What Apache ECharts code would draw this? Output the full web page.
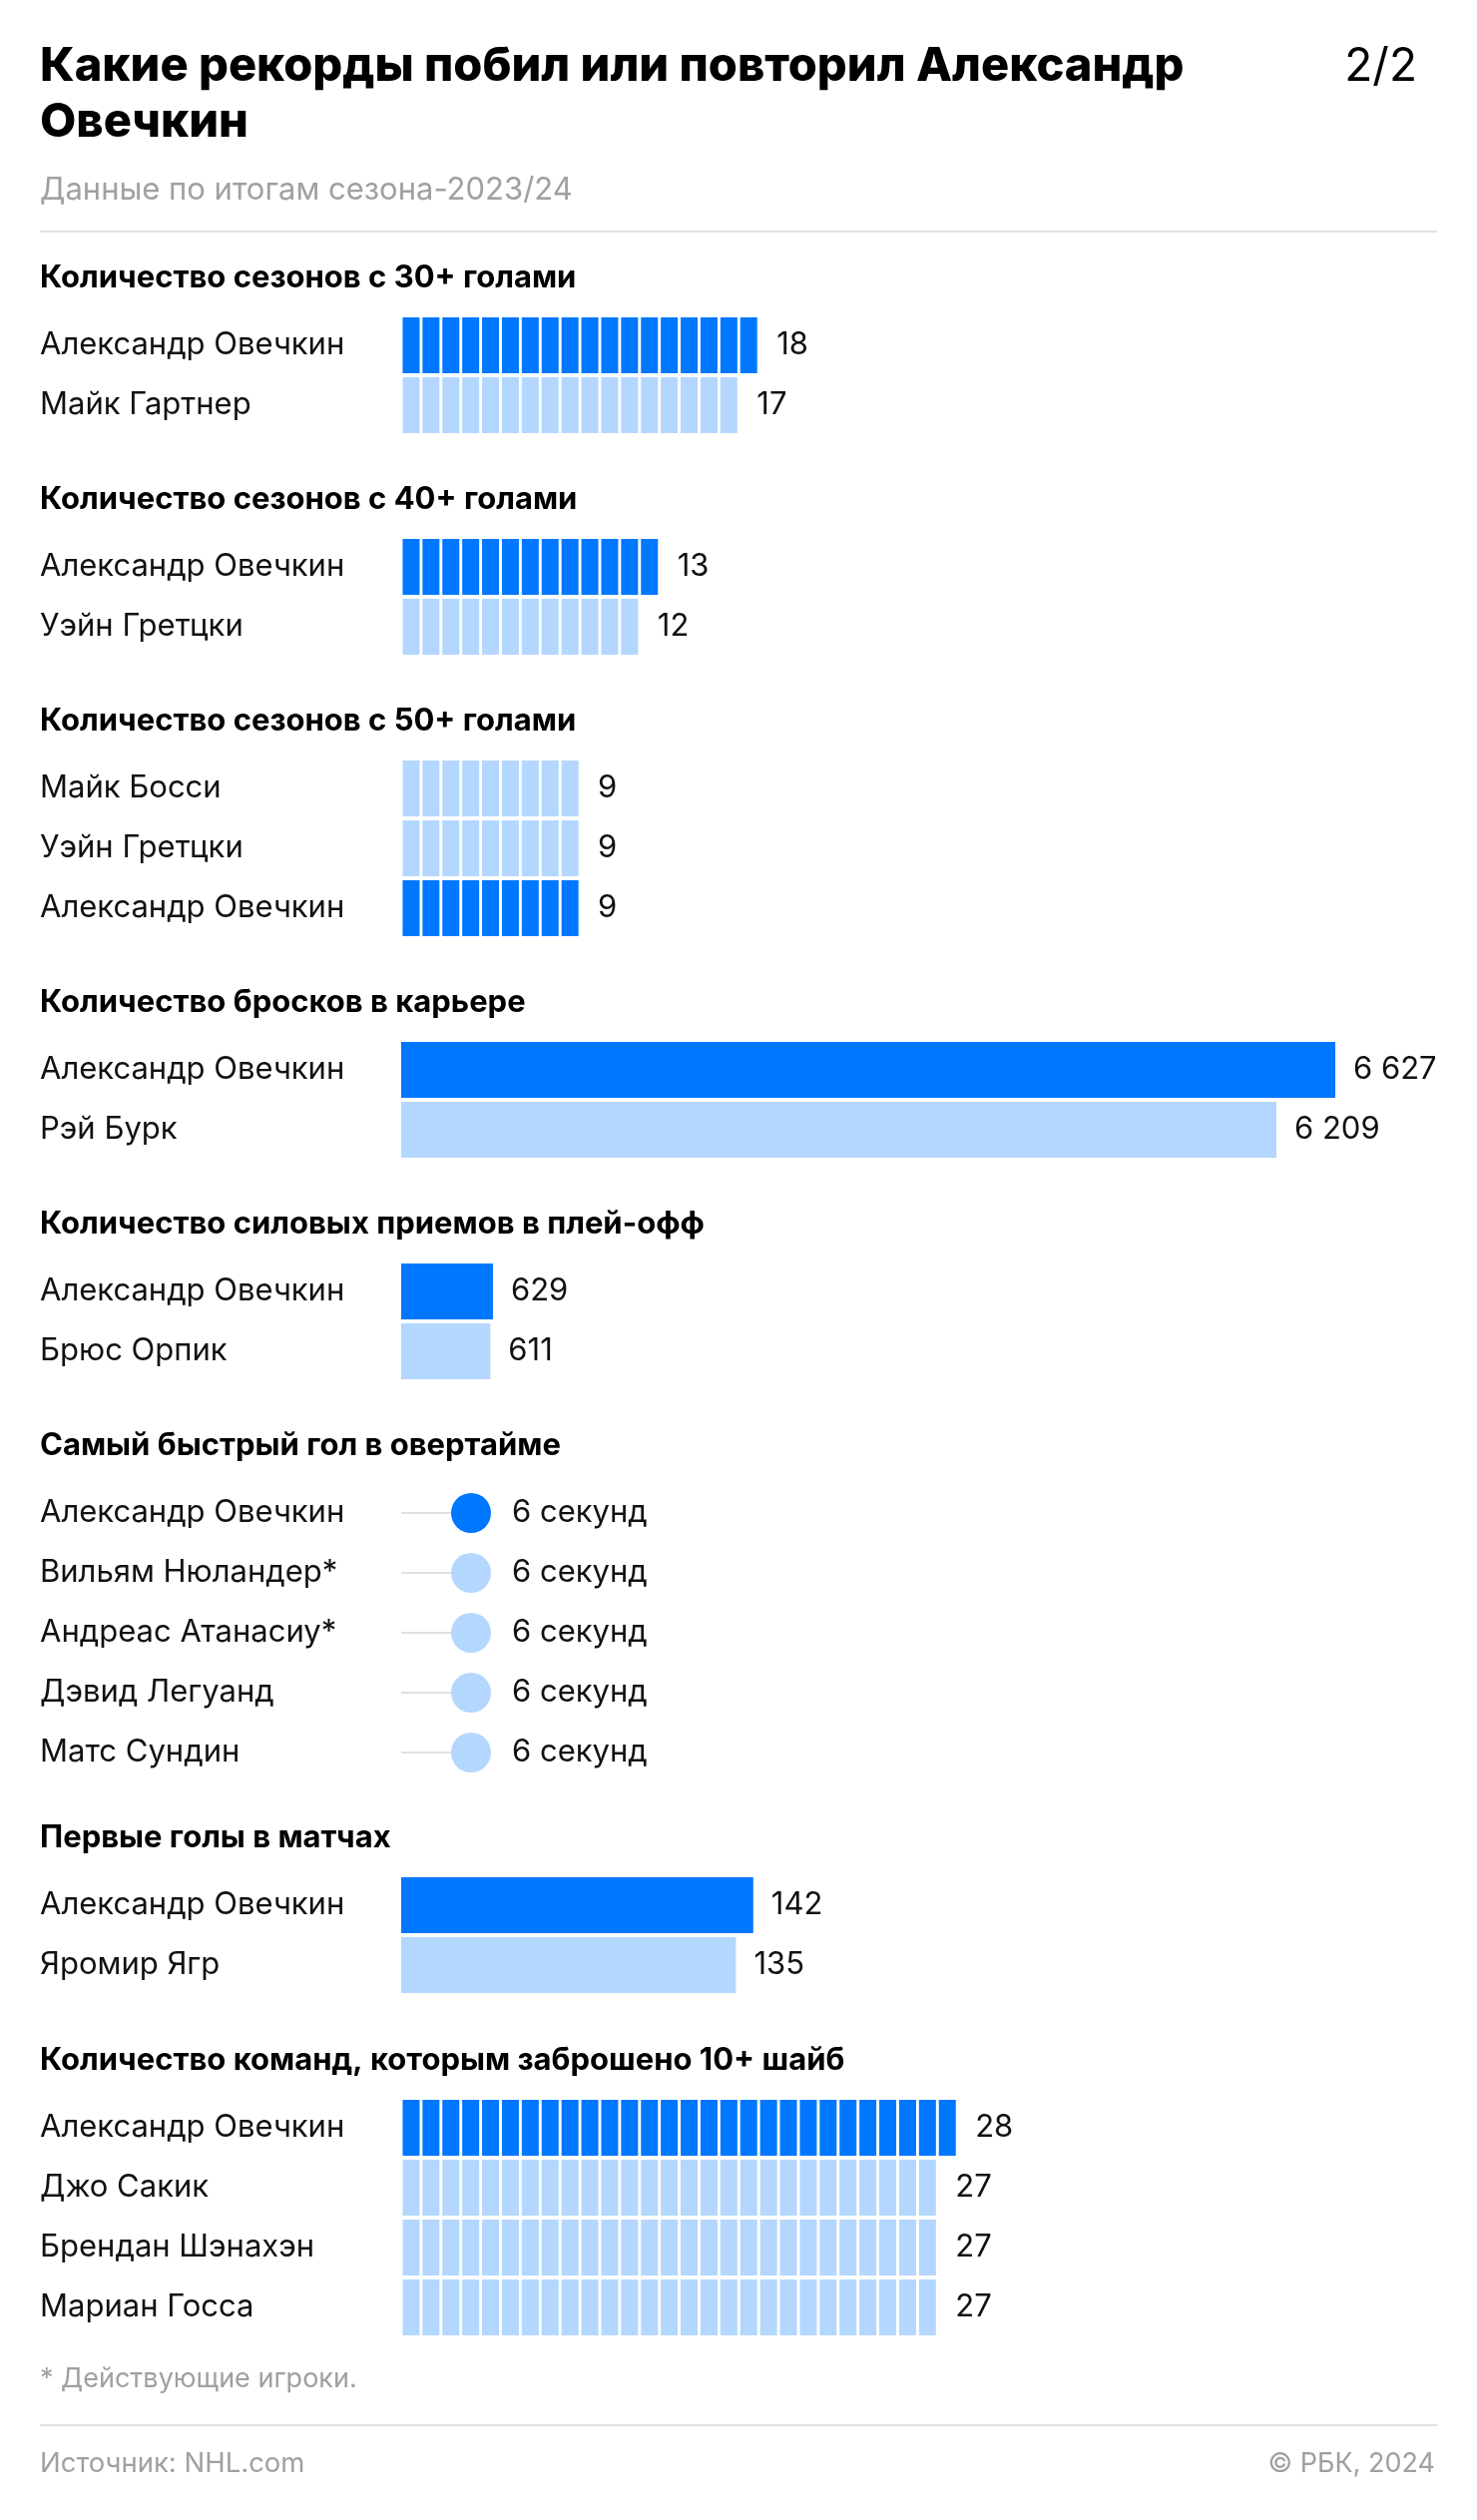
<!DOCTYPE html>
<html><head><meta charset="utf-8">
<script src="https://cdn.jsdelivr.net/npm/echarts@6/dist/echarts.min.js"></script>
<style>html,body{margin:0;padding:0;background:#fff}#c{width:1480px;height:2525px}</style>
</head><body><div id="c"></div>
<script>
// ---------- texts ----------
const titleLines = ['Какие рекорды побил или повторил Александр', 'Овечкин'];
const pageMark = '2/2';
const subtitle = 'Данные по итогам сезона-2023/24';
const footnote = '* Действующие игроки.';
const source = 'Источник: NHL.com';
const copyright = '© РБК, 2024';
const sectionTitles = [
  'Количество сезонов с 30+ голами',
  'Количество сезонов с 40+ голами',
  'Количество сезонов с 50+ голами',
  'Количество бросков в карьере',
  'Количество силовых приемов в плей-офф',
  'Самый быстрый гол в овертайме',
  'Первые голы в матчах',
  'Количество команд, которым заброшено 10+ шайб'
];
// ---------- data ----------
const goals30Names = ['Александр Овечкин', 'Майк Гартнер'];
const goals30Values = [18, 17];
const goals40Names = ['Александр Овечкин', 'Уэйн Гретцки'];
const goals40Values = [13, 12];
const goals50Names = ['Майк Босси', 'Уэйн Гретцки', 'Александр Овечкин'];
const goals50Values = [9, 9, 9];
const shotsNames = ['Александр Овечкин', 'Рэй Бурк'];
const shotsValues = [6627, 6209];
const hitsNames = ['Александр Овечкин', 'Брюс Орпик'];
const hitsValues = [629, 611];
const otGoalNames = ['Александр Овечкин', 'Вильям Нюландер*', 'Андреас Атанасиу*', 'Дэвид Легуанд', 'Матс Сундин'];
const otGoalSeconds = [6, 6, 6, 6, 6];
const otUnit = 'секунд';
const firstGoalNames = ['Александр Овечкин', 'Яромир Ягр'];
const firstGoalValues = [142, 135];
const teamsNames = ['Александр Овечкин', 'Джо Сакик', 'Брендан Шэнахэн', 'Мариан Госса'];
const teamsValues = [28, 27, 27, 27];
const highlightName = 'Александр Овечкин';

// ---------- style / layout ----------
const FONT = 'Inter, "Noto Sans", sans-serif';
const DARK = '#0077ff', LIGHT = '#b4d7ff', GRAY = '#a0a0a0', INK = '#111111';
const LEFT = 402, ROW = 60, BAR = 56, FS = 31;

const sections = [
  { names: goals30Names, values: goals30Values, kind: 'picto', titleY: 279, max: 30, width: 597 },
  { names: goals40Names, values: goals40Values, kind: 'picto', titleY: 501, max: 30, width: 597 },
  { names: goals50Names, values: goals50Values, kind: 'picto', titleY: 723, max: 30, width: 597 },
  { names: shotsNames, values: shotsValues, kind: 'bar', titleY: 1005, max: 7080, width: 1000 },
  { names: hitsNames, values: hitsValues, kind: 'bar', titleY: 1227, max: 684, width: 100 },
  { names: otGoalNames, values: otGoalSeconds, kind: 'dot', titleY: 1449, max: 6, width: 70 },
  { names: firstGoalNames, values: firstGoalValues, kind: 'bar', titleY: 1842, max: 161, width: 400 },
  { names: teamsNames, values: teamsValues, kind: 'picto', titleY: 2065, max: 30, width: 597 }
];

const fmt = v => String(v).replace(/\B(?=(\d{3})+(?!\d))/g, ' ');
const colorOf = n => n === highlightName ? DARK : LIGHT;
const valueLabel = { show: true, position: 'right', distance: 18, color: INK, fontSize: FS, fontFamily: FONT };

const grids = [], xAxes = [], yAxes = [], series = [];
const graphics = [];

function txt(text, x, y, size, weight, color, align) {
  graphics.push({
    type: 'text', x: x, y: y, silent: true,
    style: { text: text, font: weight + ' ' + size + 'px ' + FONT, fill: color,
             align: align || 'left', verticalAlign: 'middle',
             textAlign: align || 'left', textVerticalAlign: 'middle' }
  });
}
function hline(y) {
  graphics.push({ type: 'line', silent: true, shape: { x1: 40, y1: y, x2: 1440, y2: y },
                  style: { stroke: '#e2e2e2', lineWidth: 2 } });
}

txt(titleLines[0], 40, 67, 47, '800', '#000');
txt(titleLines[1], 40, 123, 47, '800', '#000');
txt(pageMark, 1420, 67, 46, 'normal', '#000', 'right');
txt(subtitle, 40, 191, 31, 'normal', GRAY);
hline(232);
txt(footnote, 40, 2384, 27, 'normal', GRAY);
hline(2430);
txt(source, 40, 2469, 27.5, 'normal', GRAY);
txt(copyright, 1438, 2469, 27, 'normal', GRAY, 'right');

sections.forEach((s, i) => {
  txt(sectionTitles[i], 40, s.titleY, 31, 'bold', '#000');
  grids.push({ left: LEFT, top: s.titleY + 37, width: s.width, height: s.names.length * ROW, containLabel: false });
  xAxes.push({ type: 'value', gridIndex: i, min: 0, max: s.max, show: false });
  yAxes.push({
    type: 'category', gridIndex: i, inverse: true, data: s.names,
    axisLine: { show: false }, axisTick: { show: false }, splitLine: { show: false },
    axisLabel: { interval: 0, align: 'left', margin: LEFT - 40, fontSize: FS, fontFamily: FONT, color: INK }
  });
  const items = s.values.map((v, k) => ({ value: v, itemStyle: { color: colorOf(s.names[k]) } }));
  if (s.kind === 'picto') {
    series.push({
      type: 'pictorialBar', xAxisIndex: i, yAxisIndex: i, symbol: 'rect',
      symbolRepeat: true, symbolSize: [17, BAR], symbolMargin: '1.5!', symbolPosition: 'start',
      barWidth: BAR, data: items, label: valueLabel
    });
  } else if (s.kind === 'bar') {
    series.push({
      type: 'bar', xAxisIndex: i, yAxisIndex: i, barWidth: BAR, data: items,
      label: Object.assign({}, valueLabel, { formatter: p => fmt(p.value) })
    });
  } else {
    series.push({
      type: 'bar', xAxisIndex: i, yAxisIndex: i, barWidth: 2, silent: true,
      data: s.values, itemStyle: { color: '#e0e0e0' }
    });
    series.push({
      type: 'scatter', xAxisIndex: i, yAxisIndex: i, symbol: 'circle', symbolSize: 40, z: 5,
      data: s.values.map((v, k) => ({ value: [v, k], itemStyle: { color: colorOf(s.names[k]), opacity: 1 } })),
      label: Object.assign({}, valueLabel, { distance: 21, formatter: p => p.value[0] + ' ' + otUnit })
    });
  }
});

const chart = echarts.init(document.getElementById('c'), null, { renderer: 'canvas' });
chart.setOption({
  backgroundColor: '#ffffff',
  animation: false,
  grid: grids, xAxis: xAxes, yAxis: yAxes, series: series,
  graphic: graphics
});
</script></body></html>
